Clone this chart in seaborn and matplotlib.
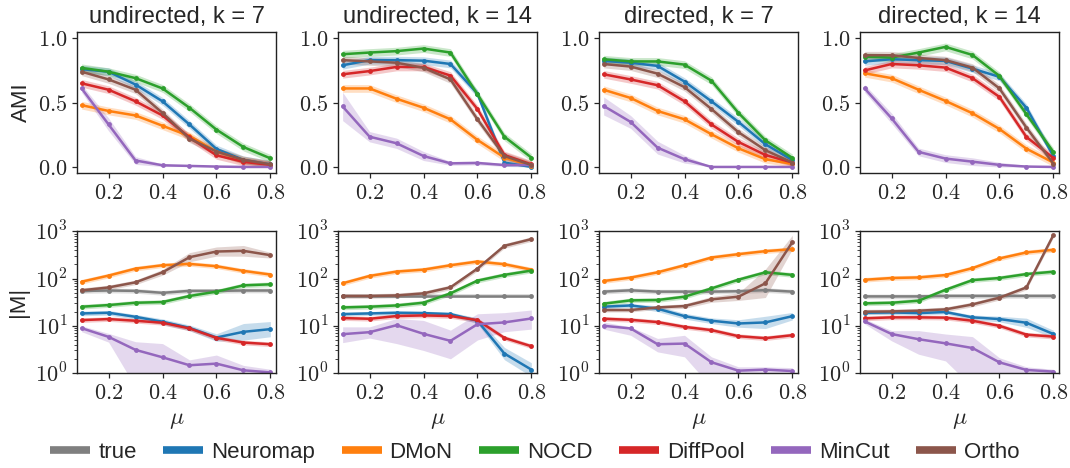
import numpy as np
import pandas as pd
import matplotlib
matplotlib.use("Agg")
import matplotlib.pyplot as plt
import seaborn as sns
from matplotlib.lines import Line2D
from matplotlib.ticker import FixedLocator, FixedFormatter, LogLocator, NullFormatter

# ---------------- data ----------------
MU = [0.1, 0.2, 0.3, 0.4, 0.5, 0.6, 0.7, 0.8]
METHODS = ["true", "Neuromap", "DMoN", "NOCD", "DiffPool", "MinCut", "Ortho"]
TITLES = ["undirected, k = 7", "undirected, k = 14", "directed, k = 7", "directed, k = 14"]

# AMI (top row)
ami_und_k7 = {
    "Neuromap": [0.76, 0.74, 0.64, 0.51, 0.33, 0.14, 0.055, 0.02],
    "DMoN":     [0.48, 0.435, 0.40, 0.32, 0.24, 0.12, 0.05, 0.015],
    "NOCD":     [0.77, 0.74, 0.69, 0.61, 0.46, 0.29, 0.155, 0.067],
    "DiffPool": [0.65, 0.60, 0.51, 0.40, 0.23, 0.09, 0.04, 0.015],
    "MinCut":   [0.61, 0.33, 0.05, 0.013, 0.008, 0.003, 0.0, 0.0],
    "Ortho":    [0.74, 0.68, 0.60, 0.42, 0.22, 0.12, 0.055, 0.02],
}
ami_und_k14 = {
    "Neuromap": [0.79, 0.83, 0.83, 0.826, 0.80, 0.57, 0.034, 0.0],
    "DMoN":     [0.61, 0.61, 0.53, 0.46, 0.37, 0.21, 0.073, 0.01],
    "NOCD":     [0.876, 0.889, 0.90, 0.92, 0.889, 0.565, 0.235, 0.073],
    "DiffPool": [0.72, 0.745, 0.777, 0.777, 0.71, 0.45, 0.093, 0.02],
    "MinCut":   [0.47, 0.235, 0.184, 0.085, 0.028, 0.031, 0.015, 0.015],
    "Ortho":    [0.83, 0.82, 0.81, 0.77, 0.68, 0.37, 0.085, 0.015],
}
ami_dir_k7 = {
    "Neuromap": [0.824, 0.81, 0.785, 0.663, 0.51, 0.35, 0.176, 0.054],
    "DMoN":     [0.60, 0.536, 0.435, 0.37, 0.254, 0.145, 0.06, 0.023],
    "NOCD":     [0.837, 0.82, 0.82, 0.795, 0.67, 0.42, 0.207, 0.07],
    "DiffPool": [0.72, 0.68, 0.635, 0.51, 0.33, 0.194, 0.093, 0.034],
    "MinCut":   [0.474, 0.35, 0.15, 0.06, 0.0, 0.0, 0.0, 0.0],
    "Ortho":    [0.80, 0.78, 0.725, 0.62, 0.45, 0.27, 0.13, 0.034],
}
ami_dir_k14 = {
    "Neuromap": [0.82, 0.837, 0.83, 0.824, 0.764, 0.70, 0.46, 0.085],
    "DMoN":     [0.728, 0.69, 0.60, 0.513, 0.417, 0.295, 0.142, 0.034],
    "NOCD":     [0.857, 0.85, 0.889, 0.933, 0.87, 0.707, 0.41, 0.117],
    "DiffPool": [0.75, 0.80, 0.79, 0.772, 0.69, 0.544, 0.233, 0.07],
    "MinCut":   [0.61, 0.378, 0.117, 0.065, 0.041, 0.016, 0.003, 0.0],
    "Ortho":    [0.868, 0.868, 0.847, 0.83, 0.772, 0.61, 0.306, 0.026],
}
# half-width of the AMI confidence bands
ami_band_default = 0.03
ami_band_mincut = [
    [0.03, 0.05, 0.03, 0.01, 0.005, 0.003, 0.002, 0.002],
    [0.11, 0.04, 0.04, 0.035, 0.015, 0.015, 0.01, 0.01],
    [0.07, 0.05, 0.05, 0.03, 0.005, 0.003, 0.002, 0.002],
    [0.03, 0.04, 0.03, 0.03, 0.03, 0.02, 0.01, 0.005],
]

# |M| (bottom row, log scale)
m_und_k7 = {
    "true":     [54.7, 56, 55, 50, 55, 55, 56, 56],
    "Neuromap": [18.3, 18.9, 15.5, 12.2, 9.06, 5.65, 7.45, 8.5],
    "DMoN":     [86, 116, 163, 192, 205, 183, 146, 122],
    "NOCD":     [25.4, 27.5, 30.8, 31.9, 42.8, 53, 72, 75.7],
    "DiffPool": [13.2, 13.9, 12.8, 11.6, 8.8, 5.55, 4.42, 4.07],
    "MinCut":   [8.9, 5.83, 3.09, 2.15, 1.46, 1.58, 1.14, 1.03],
    "Ortho":    [56.5, 65, 83.5, 136, 284, 375, 388, 314],
}
m_und_k14 = {
    "true":     [43, 43, 43, 43, 43, 43, 43, 43],
    "Neuromap": [17.7, 18.3, 18.9, 18.6, 17.7, 12.8, 2.58, 1.18],
    "DMoN":     [79.6, 114, 141, 155, 192, 230, 202, 155],
    "NOCD":     [24.5, 25.4, 27, 30.9, 48.7, 90.6, 120, 148],
    "DiffPool": [14.6, 14.1, 16.1, 16.6, 16.1, 13.2, 5.55, 3.69],
    "MinCut":   [6.65, 7.33, 10.3, 6.76, 4.8, 10.8, 11.8, 14.3],
    "Ortho":    [42.8, 42.8, 44, 48.7, 65.4, 163, 495, 687],
}
m_dir_k7 = {
    "true":     [53, 56.5, 53, 53, 53, 54, 57, 53],
    "Neuromap": [25.4, 27, 23, 16, 12.8, 11.2, 11.8, 16],
    "DMoN":     [89, 105, 136, 192, 280, 330, 382, 421],
    "NOCD":     [29.4, 34.6, 35.2, 41.4, 62, 95, 136, 120],
    "DiffPool": [14.1, 13.4, 12, 9.5, 8.1, 6.03, 5.47, 6.33],
    "MinCut":   [10, 8.8, 4.07, 4.2, 1.69, 1.12, 1.18, 1.1],
    "Ortho":    [21.6, 21.6, 24.5, 26.2, 36.3, 41.4, 79.6, 593],
}
m_dir_k14 = {
    "true":     [42, 42, 42, 43, 43, 43, 43, 43],
    "Neuromap": [18.9, 19.2, 18.6, 19.6, 15.1, 13.9, 11.6, 6.7],
    "DMoN":     [94.6, 103, 106, 119, 167, 268, 359, 408],
    "NOCD":     [29.9, 30.8, 34, 58, 93, 103, 125, 140],
    "DiffPool": [14.4, 15.1, 15.1, 14.9, 12.8, 10, 6.5, 5.9],
    "MinCut":   [12.4, 6.7, 5.2, 4.25, 3.38, 1.68, 1.16, 1.07],
    "Ortho":    [19.9, 20.2, 20.9, 22.3, 28.4, 39.4, 65, 835],
}
# multiplicative band factors for |M|
m_band_default = 1.12
m_band_special = {
    (0, "Neuromap"): [1.12, 1.12, 1.12, 1.15, 1.15, 1.2, 1.5, 1.45],
    (0, "Ortho"):    [1.12, 1.12, 1.12, 1.15, 1.25, 1.25, 1.3, 1.15],
    (1, "Neuromap"): [1.1, 1.1, 1.1, 1.1, 1.1, 1.15, 1.35, 1.4],
    (2, "Neuromap"): [1.1, 1.1, 1.15, 1.15, 1.15, 1.2, 1.35, 1.2],
    (2, "Ortho"):    [1.1, 1.1, 1.1, 1.12, 1.15, 1.2, 2.0, 1.4],
    (3, "Neuromap"): [1.1, 1.1, 1.1, 1.1, 1.12, 1.15, 1.25, 1.2],
}
# explicit MinCut bands (lower, upper) for |M|
m_mincut_lo = [
    [7.5, 4.5, 0.5, 0.5, 0.5, 0.5, 0.8, 0.8],
    [4.4, 5.5, 4.2, 3.0, 2.0, 5.0, 7.5, 8.5],
    [8.5, 6.3, 2.8, 2.2, 0.5, 0.5, 0.8, 0.8],
    [11.0, 4.8, 2.5, 1.8, 0.5, 0.5, 0.9, 0.9],
]
m_mincut_hi = [
    [10.0, 6.9, 4.6, 4.2, 1.9, 2.4, 1.45, 1.2],
    [9.5, 9.5, 14.3, 13.0, 8.1, 18.0, 19.0, 21.6],
    [12.0, 9.5, 5.4, 6.3, 2.2, 1.35, 1.35, 1.3],
    [14.0, 7.9, 7.9, 6.7, 5.9, 2.1, 1.35, 1.2],
]

AMI_PANELS = [ami_und_k7, ami_und_k14, ami_dir_k7, ami_dir_k14]
M_PANELS = [m_und_k7, m_und_k14, m_dir_k7, m_dir_k14]

pal = sns.color_palette("tab10")
COLORS = {"true": pal[7], "Neuromap": pal[0], "DMoN": pal[1], "NOCD": pal[2],
          "DiffPool": pal[3], "MinCut": pal[4], "Ortho": pal[5]}

# ---------------- style ----------------
sns.set_theme(style="ticks")
plt.rcParams["font.family"] = ["Liberation Sans", "DejaVu Sans"]
plt.rcParams["mathtext.fontset"] = "cm"
plt.rcParams["axes.edgecolor"] = "#222222"
plt.rcParams["axes.linewidth"] = 1.0

fig, axes = plt.subplots(2, 4, figsize=(10.7, 4.68), dpi=100)
fig.subplots_adjust(left=0.072, right=0.99, top=0.932, bottom=0.203,
                    wspace=0.31, hspace=0.41)

TICK_FS = 16
xt = [0.2, 0.4, 0.6, 0.8]


def draw(ax, x, y, lo, hi, color):
    df = pd.DataFrame({"mu": x, "v": y})
    ax.fill_between(x, lo, hi, color=color, alpha=0.25, lw=0)
    sns.lineplot(data=df, x="mu", y="v", ax=ax, color=color, lw=1.8,
                 marker="o", markersize=3.5, markeredgewidth=0, errorbar=None)


for j in range(4):
    ax = axes[0, j]
    for m in METHODS[1:]:
        y = np.array(AMI_PANELS[j][m])
        hw = np.array(ami_band_mincut[j]) if m == "MinCut" else ami_band_default
        draw(ax, MU, y, np.clip(y - hw, 0, None), y + hw, COLORS[m])
    ax.set_ylim(-0.05, 1.05)
    ax.yaxis.set_major_locator(FixedLocator([0.0, 0.5, 1.0]))
    ax.yaxis.set_major_formatter(FixedFormatter(["$0.0$", "$0.5$", "$1.0$"]))
    ax.set_title(TITLES[j], fontsize=17, pad=6)
    ax.set_ylabel("AMI" if j == 0 else "", fontsize=16)

    ax = axes[1, j]
    for m in METHODS:
        y = np.array(M_PANELS[j][m])
        if m == "MinCut":
            lo = np.array(m_mincut_lo[j]); hi = np.array(m_mincut_hi[j])
        else:
            f = np.array(m_band_special.get((j, m), m_band_default))
            lo = y / f; hi = y * f
        draw(ax, MU, y, lo, hi, COLORS[m])
    ax.set_yscale("log")
    ax.set_ylim(1, 1000)
    ax.yaxis.set_major_locator(FixedLocator([1, 10, 100, 1000]))
    ax.yaxis.set_major_formatter(FixedFormatter(["$10^{0}$", "$10^{1}$", "$10^{2}$", "$10^{3}$"]))
    ax.yaxis.set_minor_locator(LogLocator(base=10, subs=np.arange(2, 10)))
    ax.yaxis.set_minor_formatter(NullFormatter())
    ax.set_ylabel("|M|" if j == 0 else "", fontsize=16)
    ax.set_xlabel(r"$\mu$", fontsize=17)

for ax in axes.flat:
    ax.set_xlim(0.083, 0.822)
    ax.xaxis.set_major_locator(FixedLocator(xt))
    ax.xaxis.set_major_formatter(FixedFormatter([f"${v:.1f}$" for v in xt]))
    ax.tick_params(axis="both", which="major", labelsize=TICK_FS, length=3.5, width=0.9)
    ax.tick_params(axis="y", which="minor", length=2, width=0.6)
    for s in ax.spines.values():
        s.set_visible(True)
    if ax in axes[0]:
        ax.set_xlabel("")

handles = [Line2D([0], [0], color=COLORS[m], lw=5.5, solid_capstyle="butt") for m in METHODS]
fig.legend(handles, METHODS, loc="center", bbox_to_anchor=(0.5, 0.034), ncol=7,
           frameon=False, fontsize=16, handlelength=1.8, handletextpad=0.35,
           columnspacing=1.2)

fig.savefig("out.png", dpi=100)
